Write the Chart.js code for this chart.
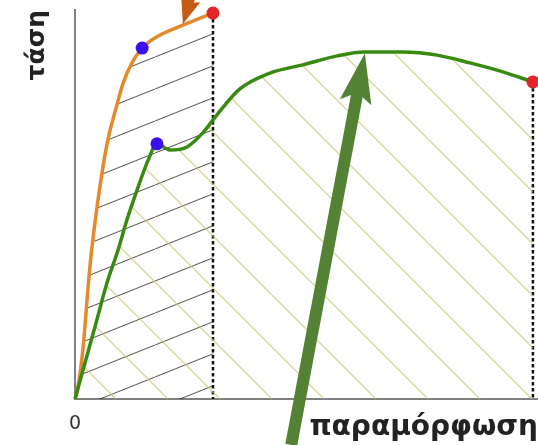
<!DOCTYPE html>
<html>
<head>
<meta charset="utf-8">
<script src="https://cdn.jsdelivr.net/npm/chart.js@4.4.0/dist/chart.umd.min.js"></script>
<style>
    html, body { margin: 0; padding: 0; background: #fff; overflow: hidden; }
    #wrap { width: 538px; height: 445px; position: relative; }
</style>
</head>
<body>
<div id="wrap"><canvas id="stress-chart"></canvas></div>
<script>
// brittle material (orange) - strain / stress
const orangeStrain = [0, 0.4, 1.7, 2.9, 3.6, 5.7, 7.1, 9.1, 10.4, 12.3, 14.5, 17.7, 23.3, 27.0, 29.8];
const orangeStress = [0, 1.5, 12.6, 29.8, 38.3, 57.1, 66.6, 75.8, 81.2, 86.4, 90.2, 93.1, 96.1, 97.9, 99.2];
const orangeYield = 10;

// ductile material (green)
const greenStrain = [0, 4.3, 6.9, 9.3, 11.2, 13.4, 15.8, 17.7, 20.5, 24.2, 27.6, 30.5, 35.6, 42.1, 49.2, 56.6, 62.6, 70.8, 78.2, 85.3, 92.4, 98.9];
const greenStress = [0, 18.5, 29.8, 38.3, 46.0, 53.7, 61.4, 65.6, 64.0, 64.8, 68.4, 72.8, 79.7, 83.8, 85.9, 88.2, 89.2, 89.2, 88.4, 86.4, 84.1, 81.5];
const greenYield = 7;

// arrows: [from, to] in strain/stress units
const greenArrow = [[46.7, -11.8], [62.6, 88.9]];
const orangeArrow = [[28.1, 114.4], [23.3, 96.4]];

const xTickValues = [0];
const xTickLabels = ['0'];
const xTitle = 'παραμόρφωση';
const yTitle = 'τάση';

function toPoints(xs, ys) {
    return xs.map(function (x, i) { return {x: x, y: ys[i]}; });
}

function dropLine(xs, ys) {
    let last = xs.length - 1;
    return [{x: xs[last], y: ys[last]}, {x: xs[last], y: 0}];
}

let ctx = document.getElementById('stress-chart').getContext('2d');

function hatch(w, h, color, lw, rising) {
    let c = document.createElement('canvas');
    c.width = w;
    c.height = h;
    let g = c.getContext('2d');
    g.strokeStyle = color;
    g.lineWidth = lw;
    for (let k = -1; k <= 1; k++) {
        g.beginPath();
        if (rising) {
            g.moveTo(k * w, h);
            g.lineTo(k * w + w, 0);
        } else {
            g.moveTo(k * w, 0);
            g.lineTo(k * w + w, h);
        }
        g.stroke();
    }
    return ctx.createPattern(c, 'repeat');
}

let blackHatch = hatch(80, 32, 'rgba(55,50,45,0.85)', 1, true);
let yellowHatch = hatch(52, 52, 'rgba(205,198,120,0.7)', 1.4, false);

function markerRadius(idx) {
    return function (c) {
        let n = c.dataset.data.length - 1;
        return (c.dataIndex === idx || c.dataIndex === n) ? 6.5 : 0;
    };
}

function markerColor(idx) {
    return function (c) {
        return c.dataIndex === idx ? '#3a10ee' : '#e0262a';
    };
}

function drawArrow(g, from, to, shaftW, headL, headW, notch, color) {
    let dx = to.x - from.x, dy = to.y - from.y;
    let len = Math.hypot(dx, dy);
    let ux = dx / len, uy = dy / len;
    let nx = -uy, ny = ux;
    let bx = to.x - ux * headL, by = to.y - uy * headL;
    let kx = to.x - ux * headL * notch, ky = to.y - uy * headL * notch;
    g.save();
    g.fillStyle = color;
    g.strokeStyle = color;
    g.lineWidth = shaftW;
    g.beginPath();
    g.moveTo(from.x, from.y);
    g.lineTo(kx, ky);
    g.stroke();
    g.beginPath();
    g.moveTo(to.x, to.y);
    g.lineTo(bx + nx * headW / 2, by + ny * headW / 2);
    g.lineTo(kx, ky);
    g.lineTo(bx - nx * headW / 2, by - ny * headW / 2);
    g.closePath();
    g.fill();
    g.restore();
}

const extras = {
    id: 'extras',
    beforeDatasetsDraw: function (chart) {
        let a = chart.chartArea;
        blackHatch.setTransform(new DOMMatrix().translate(a.left, a.bottom - 22));
        yellowHatch.setTransform(new DOMMatrix().translate(a.left + 197, a.bottom));
    },
    afterDraw: function (chart) {
        let xs = chart.scales.x, ys = chart.scales.y;
        let px = function (p) { return {x: xs.getPixelForValue(p[0]), y: ys.getPixelForValue(p[1])}; };
        drawArrow(chart.ctx, px(orangeArrow[0]), px(orangeArrow[1]), 8, 26, 20, 0.85, '#c55a11');
        drawArrow(chart.ctx, px(greenArrow[0]), px(greenArrow[1]), 12, 50, 32, 0.8, '#548235');
    }
};

let chart = new Chart(ctx, {
    type: 'line',
    data: {
        datasets: [{
            data: toPoints(greenStrain, greenStress),
            borderColor: '#388a12',
            borderWidth: 3.5,
            backgroundColor: yellowHatch,
            fill: 'origin',
            cubicInterpolationMode: 'monotone',
            pointRadius: markerRadius(greenYield),
            pointBackgroundColor: markerColor(greenYield),
            pointBorderWidth: 0,
            clip: false,
            order: 1
        }, {
            data: toPoints(orangeStrain, orangeStress),
            borderColor: '#e38b2c',
            borderWidth: 3.5,
            backgroundColor: blackHatch,
            fill: 'origin',
            cubicInterpolationMode: 'monotone',
            pointRadius: markerRadius(orangeYield),
            pointBackgroundColor: markerColor(orangeYield),
            pointBorderWidth: 0,
            clip: false,
            order: 2
        }, {
            data: dropLine(orangeStrain, orangeStress),
            borderColor: '#111',
            borderWidth: 2.5,
            borderDash: [3.5, 2.5],
            pointRadius: 0,
            fill: false,
            order: 3
        }, {
            data: dropLine(greenStrain, greenStress),
            borderColor: '#111',
            borderWidth: 2.5,
            borderDash: [3.5, 2.5],
            pointRadius: 0,
            fill: false,
            order: 3
        }]
    },
    options: {
        responsive: true,
        maintainAspectRatio: false,
        animation: false,
        layout: {autoPadding: false, padding: {top: 10, left: 0, right: 0, bottom: 0}},
        plugins: {legend: {display: false}, tooltip: {enabled: false}},
        scales: {
            x: {
                type: 'linear',
                min: 0,
                max: 100,
                grid: {display: false, drawTicks: false},
                border: {color: '#808080', width: 2},
                ticks: {
                    stepSize: 100,
                    padding: 14,
                    maxRotation: 0,
                    color: '#333',
                    font: {family: 'DejaVu Sans', size: 19},
                    callback: function (v) {
                        let i = xTickValues.indexOf(v);
                        return i >= 0 ? xTickLabels[i] : '';
                    }
                },
                title: {
                    display: true,
                    text: xTitle,
                    align: 'end',
                    color: '#222',
                    padding: 0,
                    font: {family: 'DejaVu Sans', size: 28, weight: 'bold'}
                },
                afterFit: function (s) {
                    s.height = 46;
                    s.paddingLeft = 0;
                    s.paddingRight = 0;
                }
            },
            y: {
                min: 0,
                max: 100,
                grid: {display: false, drawTicks: false},
                border: {color: '#808080', width: 2},
                ticks: {display: false},
                title: {
                    display: true,
                    text: yTitle,
                    align: 'end',
                    color: '#222',
                    padding: {top: 22, bottom: 0},
                    font: {family: 'DejaVu Sans', size: 25, weight: 'bold'}
                },
                afterFit: function (s) { s.width = 75; }
            }
        }
    },
    plugins: [extras]
});
</script>
</body>
</html>
